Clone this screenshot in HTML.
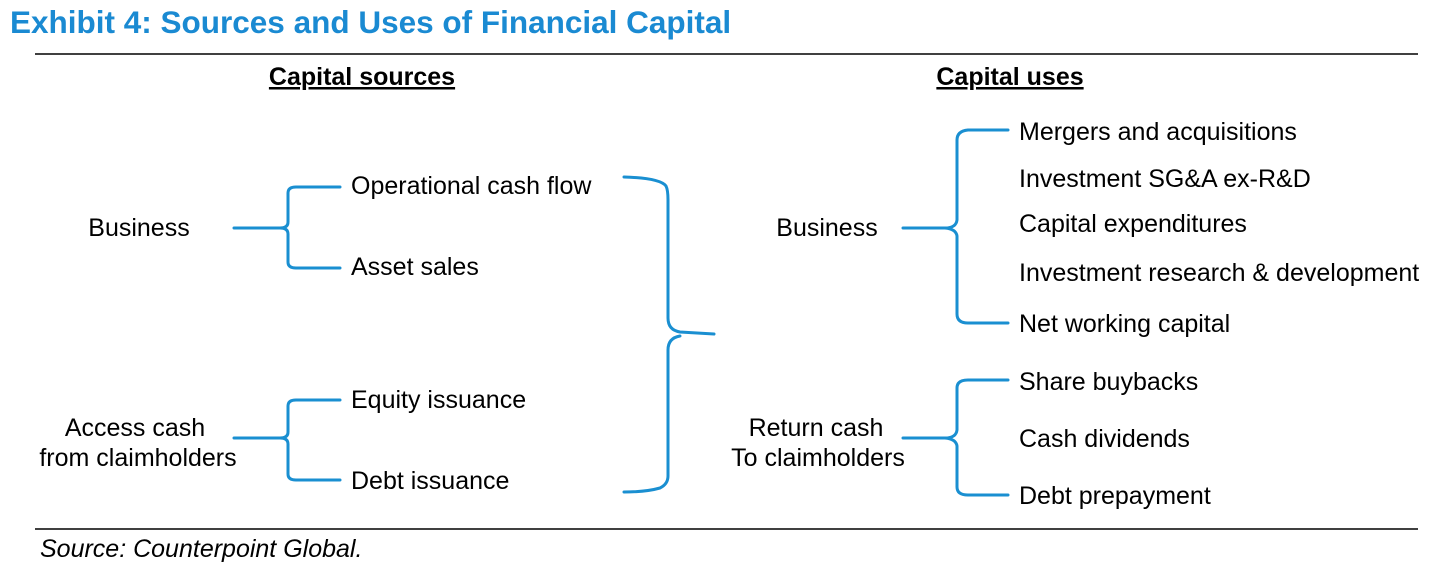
<!DOCTYPE html>
<html><head><meta charset="utf-8"><style>
html,body{margin:0;padding:0;background:#fff;}
svg{display:block;font-family:"Liberation Sans",Arial,sans-serif;}
</style></head><body>
<svg width="1456" height="571" viewBox="0 0 1456 571" xmlns="http://www.w3.org/2000/svg">
<text x="10" y="33" font-size="31.5" font-weight="bold" fill="#1a8ad2">Exhibit 4: Sources and Uses of Financial Capital</text>
<line x1="35" y1="54" x2="1418" y2="54" stroke="#000" stroke-width="1.5"/>
<line x1="35" y1="529" x2="1418" y2="529" stroke="#000" stroke-width="1.5"/>
<text x="40" y="557" font-size="25" font-style="italic" fill="#000">Source: Counterpoint Global.</text>

<g font-size="25" font-weight="bold" text-anchor="middle" fill="#000">
<text x="362" y="85" text-decoration="underline">Capital sources</text>
<text x="1010" y="85" text-decoration="underline">Capital uses</text>
</g>

<g fill="none" stroke="#1a8fd1" stroke-width="3" stroke-linecap="round">
<path d="M234 228 H280 Q288 228 288 222 V193 Q288 187 296 187 H340 M288 234 V262 Q288 268 296 268 H340 M280 228 Q288 228 288 234"/>
<path d="M234 438 H280 Q288 438 288 432 V406 Q288 400 296 400 H340 M288 444 V474 Q288 480 296 480 H340 M280 438 Q288 438 288 444"/>
<path d="M624 177 Q660 178 666 186 Q668 190 668 200 V318 Q668 330 680 332 L714 334 M680 336 Q668 338 668 350 V476 Q668 484 660 488 Q646 492 624 492"/>
<path d="M903 228 H945 Q956 228 957 220 V140 Q957 131 968 130 H1008 M945 228 Q956 229 957 236 V314 Q957 323 968 323 H1008"/>
<path d="M903 438 H945 Q956 438 957 430 V388 Q957 380 968 380 H1008 M945 438 Q956 439 957 446 V487 Q957 495 968 495 H1008"/>
</g>

<g font-size="25" fill="#000">
<text x="139" y="236" text-anchor="middle">Business</text>
<text x="135" y="436" text-anchor="middle">Access cash</text>
<text x="138" y="466" text-anchor="middle">from claimholders</text>
<text x="351" y="194">Operational cash flow</text>
<text x="351" y="275">Asset sales</text>
<text x="351" y="408">Equity issuance</text>
<text x="351" y="489">Debt issuance</text>
<text x="827" y="236" text-anchor="middle">Business</text>
<text x="816" y="436" text-anchor="middle">Return cash</text>
<text x="818" y="466" text-anchor="middle">To claimholders</text>
<text x="1019" y="140">Mergers and acquisitions</text>
<text x="1019" y="187">Investment SG&amp;A ex-R&amp;D</text>
<text x="1019" y="232">Capital expenditures</text>
<text x="1019" y="281">Investment research &amp; development</text>
<text x="1019" y="332">Net working capital</text>
<text x="1019" y="390">Share buybacks</text>
<text x="1019" y="447">Cash dividends</text>
<text x="1019" y="504">Debt prepayment</text>
</g>
</svg>
</body></html>
